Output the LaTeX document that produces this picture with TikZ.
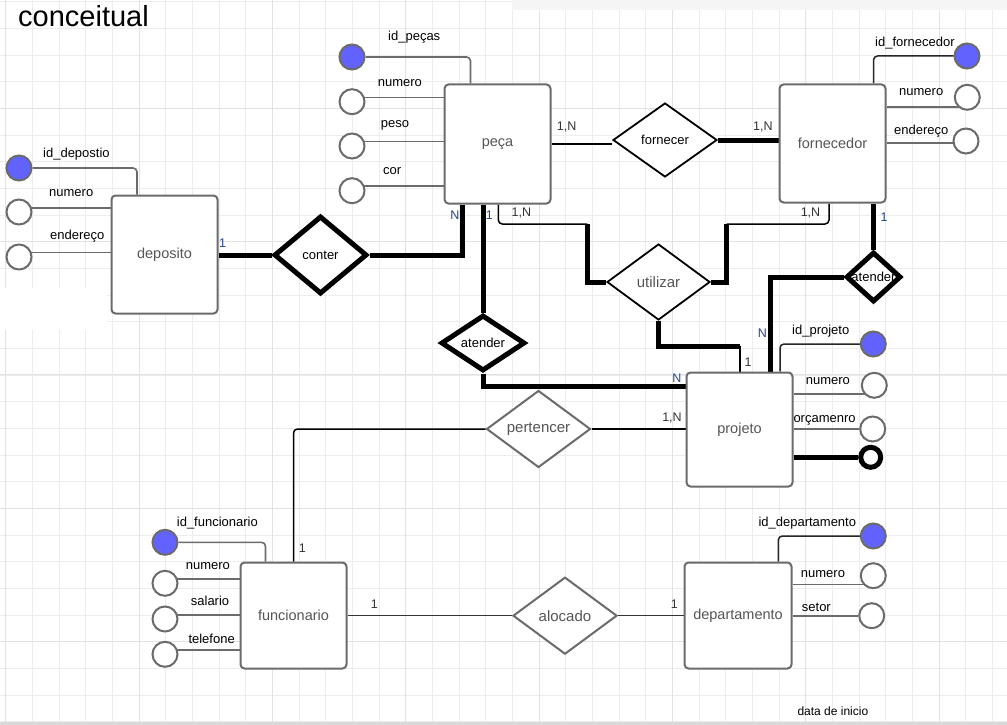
\documentclass[tikz,border=0pt]{standalone}
\usepackage{fontspec}
\setmainfont{Liberation Sans}
\usetikzlibrary{shapes.geometric}
\pgfdeclarelayer{grid}
\pgfdeclarelayer{lines}
\pgfsetlayers{grid,lines,main}
\definecolor{gridminor}{HTML}{EDEDED}
\definecolor{gridmajor}{HTML}{E2E2E2}
\definecolor{entgray}{HTML}{6B6B6B}
\definecolor{txtgray}{HTML}{555555}
\definecolor{keyblue}{HTML}{6262FF}
\definecolor{navy}{HTML}{23438A}
\definecolor{darktxt}{HTML}{333333}
\begin{document}
\begin{tikzpicture}[x=1pt,y=-1pt,
  ent/.style={rectangle, draw=entgray, line width=2pt, rounded corners=4pt, fill=white, inner sep=0pt, text=txtgray, font=\fontsize{14.5}{17}\selectfont},
  attr/.style={circle, draw=entgray, line width=2pt, fill=white, minimum size=25pt, inner sep=0pt},
  keyattr/.style={attr, fill=keyblue},
  ring/.style={circle, draw=black, line width=5pt, fill=white, minimum size=20pt, inner sep=0pt},
  rel/.style={diamond, fill=white, inner sep=0pt},
  thinrel/.style={rel, draw=black, line width=1.8pt, font=\fontsize{13}{15}\selectfont},
  thickrel/.style={rel, draw=black, line width=5pt, font=\fontsize{13}{15}\selectfont},
  grayrel/.style={rel, draw=entgray, line width=2pt, text=txtgray, font=\fontsize{15}{17}\selectfont},
  albl/.style={anchor=west, inner sep=0pt, font=\fontsize{13}{15}\selectfont},
  card/.style={inner sep=0pt, font=\fontsize{12.5}{14}\selectfont, text=darktxt},
  cardb/.style={card, text=navy},
  attrline/.style={draw=entgray, line width=1.6pt, rounded corners=4pt},
  idline/.style={draw=black!85, line width=1.5pt, rounded corners=4pt},
  thinln/.style={draw=black, line width=1.5pt, rounded corners=4pt},
  thickln/.style={draw=black, line width=5pt}
]
\useasboundingbox (0,0) rectangle (1007,725);
\begin{pgfonlayer}{grid}
  \fill[white] (0,0) rectangle (1007,725);
  \foreach \i in {0,...,37} \draw[gridminor, line width=1pt] ({5.7+26.667*\i},0) -- ({5.7+26.667*\i},722);
  \foreach \j in {0,...,27} \draw[gridminor, line width=1pt] (0,{1.67+26.667*\j}) -- (1007,{1.67+26.667*\j});
  \foreach \i in {0,...,7} \draw[gridmajor, line width=1pt] ({5.7+133.333*\i},0) -- ({5.7+133.333*\i},722);
  \foreach \j in {0,...,4} \draw[gridmajor, line width=1pt] (0,{108.33+133.333*\j}) -- (1007,{108.33+133.333*\j});
  \fill[white] (0,288) rectangle (107,330);
  \fill[black!4] (512,0) rectangle (1007,10);
  \fill[black!15] (0,721.5) rectangle (1007,725);
\end{pgfonlayer}

% title
\node[anchor=base west, inner sep=0pt, font=\fontsize{29}{31}\selectfont] (title) at (18,26.7) {conceitual};

% entities
\node[ent, minimum width=106pt, minimum height=118pt] (deposito) at (164.5,254.5) {deposito};
\node[ent, minimum width=106pt, minimum height=119pt] (peca) at (497.5,144) {peça};
\node[ent, minimum width=106pt, minimum height=118pt] (fornecedor) at (832.5,143.5) {fornecedor};
\node[ent, minimum width=106pt, minimum height=114pt] (projeto) at (739.5,429.5) {projeto};
\node[ent, minimum width=106pt, minimum height=106pt] (funcionario) at (293.5,615.5) {funcionario};
\node[ent, minimum width=107pt, minimum height=106pt] (departamento) at (738,615.5) {departamento};

% relationships
\node[thinrel, minimum width=104pt, minimum height=74pt] (fornecer) at (665,140) {\makebox[0pt]{fornecer}};
\node[thickrel, minimum width=93pt, minimum height=78pt] (conter) at (320.5,255) {\makebox[0pt]{conter}};
\node[thinrel, text=txtgray, font=\fontsize{15}{17}\selectfont, minimum width=103pt, minimum height=76pt] (utilizar) at (658.5,282) {\makebox[0pt]{utilizar}};
\node[thickrel, minimum width=84pt, minimum height=56pt] (atenderL) at (483,343) {\makebox[0pt]{atender}};
\node[thickrel, minimum width=55pt, minimum height=50pt] (atenderR) at (873.5,277) {\makebox[0pt]{atender}};
\node[grayrel, minimum width=104pt, minimum height=77pt] (pertencer) at (538.5,429) {\makebox[0pt]{pertencer}};
\node[grayrel, minimum width=104pt, minimum height=77pt] (alocado) at (565,615.7) {\makebox[0pt]{alocado}};

% attributes
\node[keyattr] (idD) at (19,168) {};
\node[attr] (numD) at (19,212) {};
\node[attr] (endD) at (19,257) {};
\node[keyattr] (idP) at (352,57) {};
\node[attr] (numP) at (352,101.7) {};
\node[attr] (pesoP) at (352,146) {};
\node[attr] (corP) at (352,190.7) {};
\node[keyattr] (idF) at (967,56) {};
\node[attr] (numF) at (967.3,97.3) {};
\node[attr] (endF) at (966,141) {};
\node[keyattr] (idPr) at (873.3,344) {};
\node[attr] (numPr) at (874.3,385.3) {};
\node[attr] (orcPr) at (872.7,429) {};
\node[ring] (extraPr) at (870.7,457.3) {};
\node[keyattr] (idFu) at (165,542.3) {};
\node[attr] (numFu) at (165,583.3) {};
\node[attr] (salFu) at (165,619) {};
\node[attr] (telFu) at (165,654.3) {};
\node[keyattr] (idDe) at (873.3,536) {};
\node[attr] (numDe) at (873.3,575.7) {};
\node[attr] (setDe) at (871.7,615.7) {};

% attribute labels
\node[albl] (tidD) at (43,154) {id\_depostio};
\node[albl] (tnumD) at (49,193) {numero};
\node[albl] (tendD) at (50,236) {endereço};
\node[albl] (tidP) at (388,37) {id\_peças};
\node[albl] (tnumP) at (377.7,83) {numero};
\node[albl] (tpesoP) at (380.7,125) {peso};
\node[albl] (tcorP) at (383,170.7) {cor};
\node[albl] (tidF) at (875,43.3) {id\_fornecedor};
\node[albl] (tnumF) at (899,92.3) {numero};
\node[albl] (tendF) at (894,130.7) {endereço};
\node[albl] (tidPr) at (792,330.7) {id\_projeto};
\node[albl] (tnumPr) at (805.7,381) {numero};
\node[albl] (torcPr) at (793.3,420) {orçamenro};
\node[albl] (tidFu) at (176.7,523.3) {id\_funcionario};
\node[albl] (tnumFu) at (185.7,566) {numero};
\node[albl] (tsalFu) at (190.7,600.7) {salario};
\node[albl] (ttelFu) at (188.3,639.3) {telefone};
\node[albl] (tidDe) at (758.3,523.3) {id\_departamento};
\node[albl] (tnumDe) at (800.7,574) {numero};
\node[albl] (tsetDe) at (801.7,607.3) {setor};
\node[albl, font=\fontsize{12}{14}\selectfont] (tdata) at (797.3,711) {data de inicio};

% cardinalities
\node[cardb] (k1) at (222.5,242.7) {1};
\node[card] (k2) at (566.7,127.3) {1,N};
\node[card] (k3) at (762.8,126.7) {1,N};
\node[cardb] (k4) at (455,214.7) {N};
\node[cardb] (k5) at (489.3,215.3) {1};
\node[card] (k6) at (521.3,212.7) {1,N};
\node[card] (k7) at (810.5,212.7) {1,N};
\node[cardb] (k8) at (884,217.3) {1};
\node[cardb] (k9) at (762.5,333.3) {N};
\node[card] (k10) at (748,362.5) {1};
\node[cardb] (k11) at (677,378.3) {N};
\node[card] (k12) at (672,418.3) {1,N};
\node[card] (k13) at (302.3,548.3) {1};
\node[card] (k14) at (374.3,604.3) {1};
\node[card] (k15) at (674.3,604) {1};

\coordinate (uL) at (587.3,224);
\coordinate (uR) at (726.7,224);
\coordinate (uB) at (740,346);

\begin{pgfonlayer}{lines}
  % deposito attributes
  \draw[attrline] (idD) -| ([xshift=-27.5pt]deposito.north);
  \draw[attrline] (numD |- 0,208) -- (deposito.west |- 0,208);
  \draw[attrline] (endD |- 0,252.3) -- (deposito.west |- 0,252.3);
  % peca attributes
  \draw[attrline] (idP) -| ([xshift=-27pt]peca.north);
  \draw[attrline] (numP |- 0,97.3) -- (peca.west |- 0,97.3);
  \draw[attrline] (pesoP |- 0,141.3) -- (peca.west |- 0,141.3);
  \draw[attrline] (corP |- 0,185.7) -- (peca.west |- 0,185.7);
  % fornecedor attributes
  \draw[idline] (idF) -| ([xshift=41pt]fornecedor.north);
  \draw[attrline] (fornecedor.east |- 0,107) -- (numF |- 0,107);
  \draw[attrline] (fornecedor.east |- 0,143) -- (endF |- 0,143);
  % projeto attributes
  \draw[idline] (idPr) -| ([xshift=40.5pt]projeto.north);
  \draw[attrline] (projeto.east |- 0,394) -- (numPr |- 0,394);
  \draw[attrline] (projeto.east |- orcPr) -- (orcPr);
  \draw[thickln] (projeto.east |- extraPr) -- (extraPr);
  % funcionario attributes
  \draw[attrline] (idFu) -| ([xshift=-28pt]funcionario.north);
  \draw[attrline] (numFu |- 0,578.7) -- (funcionario.west |- 0,578.7);
  \draw[attrline] (salFu |- 0,614.7) -- (funcionario.west |- 0,614.7);
  \draw[attrline] (telFu |- 0,650) -- (funcionario.west |- 0,650);
  % departamento attributes
  \draw[idline] (idDe) -| ([xshift=40.3pt]departamento.north);
  \draw[attrline] (departamento.east |- 0,584.3) -- (numDe |- 0,584.3);
  \draw[attrline] (departamento.east |- setDe) -- (setDe);

  % relationships
  \draw[thinln] (peca.east) -- (peca.east -| fornecer.west);
  \draw[thickln] (fornecer.east) -- (fornecer.east -| fornecedor.west);
  \draw[thickln] (deposito.east |- conter.west) -- (conter.west);
  \draw[thickln] (conter.east) -| ([xshift=-35pt]peca.south);
  \draw[thickln] (atenderL.north |- peca.south) -- (atenderL.north);
  \draw[thickln] (atenderL.south) |- (projeto.west |- 0,386.7);
  \draw[thinln] ([xshift=0.8pt]peca.south) |- (uL);
  \draw[thickln] (uL) |- (utilizar.west);
  \draw[thinln] ([xshift=-3.5pt]fornecedor.south) |- (uR);
  \draw[thickln] (uR) |- (utilizar.east);
  \draw[thickln] (utilizar.south) |- (uB);
  \draw[thinln] (uB) -- (uB |- projeto.north);
  \draw[thickln] ([xshift=41pt]fornecedor.south) -- (atenderR.north);
  \draw[thickln] (atenderR.west) -| ([xshift=30.5pt]projeto.north);
  \draw[thinln] (pertencer.east) -- (pertencer.east -| projeto.west);
  \draw[thinln] (pertencer.west) -| (funcionario.north);
  \draw[thinln, draw=darktxt] (funcionario.east |- alocado.west) -- (alocado.west);
  \draw[thinln, draw=darktxt] (alocado.east) -- (alocado.east -| departamento.west);
\end{pgfonlayer}
\end{tikzpicture}
\end{document}
